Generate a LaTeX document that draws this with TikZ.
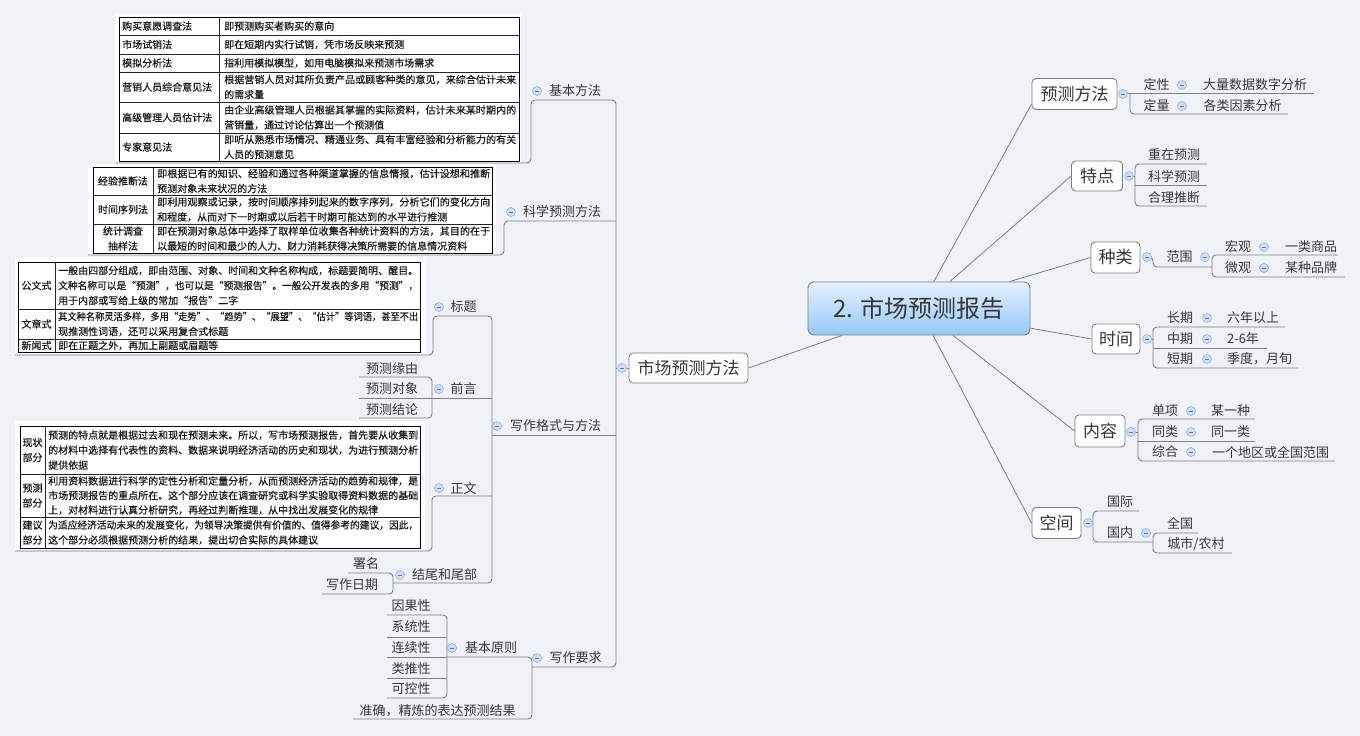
\documentclass[tikz,border=0pt]{standalone}
\usepackage{fontspec}
\setmainfont{Noto Sans CJK SC}
\newfontfamily\tabfont{Noto Sans CJK SC}[FakeBold=0.35]
\usepackage{graphicx}
\usetikzlibrary{calc}
\definecolor{bgc}{RGB}{241,242,248}
\definecolor{lnc}{RGB}{128,128,128}
\definecolor{txc}{RGB}{55,55,55}
\definecolor{tgf}{RGB}{206,222,248}
\definecolor{tgd}{RGB}{150,178,230}
\definecolor{cbt}{RGB}{228,241,255}
\definecolor{cbb}{RGB}{150,200,248}
\newcommand\fl[2]{\resizebox{#1}{\height}{#2}}
\tikzset{
  conn/.style={draw=lnc, line width=0.9pt, rounded corners=4pt},
  ray/.style={draw=lnc, line width=0.8pt},
  lvl/.style={draw=lnc, line width=0.9pt, fill=white, rounded corners=4pt, inner sep=0pt, font=\fontsize{17}{17}\selectfont, text=txc},
  tx/.style={inner sep=0pt, font=\fontsize{13}{13}\selectfont, text=txc},
  tog/.style={circle, draw=tgd, fill=tgf, minimum size=9pt, inner sep=0pt, line width=0.6pt,
    path picture={\draw[tgd!70!black, line width=0.8pt] ([xshift=-2.3pt]path picture bounding box.center) -- ([xshift=2.3pt]path picture bounding box.center);}},
  tcell/.style={inner sep=0pt, anchor=west, align=left, font=\tabfont\fontsize{10}{15}\selectfont, text=black!90},
  tlab/.style={inner sep=0pt, align=center, font=\tabfont\fontsize{10}{15}\selectfont, text=black!90},
  grid/.style={draw=black!85, line width=0.7pt},
  gridb/.style={draw=black, line width=1pt},
}
\begin{document}
\begin{tikzpicture}[x=1pt,y=-1pt]
\useasboundingbox (0,0) rectangle (1360,736);
\fill[bgc] (0,0) rectangle (1360,736);

% ---------------- Table 1 (基本方法)
\fill[white] (115,14) rectangle (521,163);
\draw[grid] (219,17) -- (219,161);
\foreach \yy in {35,54,72,102,133} {\draw[grid] (119,\yy) -- (519,\yy);}
\draw[gridb] (119,17) rectangle (519,161);
\node[tcell] (b1a) at (122,26) {购买意愿调查法};
\node[tcell] (b1b) at (224,26) {即预测购买者购买的意向};
\node[tcell] (b2a) at (122,44.5) {市场试销法};
\node[tcell] (b2b) at (224,44.5) {即在短期内实行试销，凭市场反映来预测};
\node[tcell] (b3a) at (122,63) {模拟分析法};
\node[tcell] (b3b) at (224,63) {指利用模拟模型，如用电脑模拟来预测市场需求};
\node[tcell] (b4a) at (122,87) {营销人员综合意见法};
\node[tcell] (b4b) at (224,87) {\fl{292pt}{根据营销人员对其所负责产品或顾客种类的意见，来综合估计未来}\\的需求量};
\node[tcell] (b5a) at (122,117.5) {高级管理人员估计法};
\node[tcell] (b5b) at (224,117.5) {\fl{292pt}{由企业高级管理人员根据其掌握的实际资料，估计未来某时期内的}\\营销量，通过讨论估算出一个预测值};
\node[tcell] (b6a) at (122,147) {专家意见法};
\node[tcell] (b6b) at (224,147) {\fl{292pt}{即听从熟悉市场情况、精通业务、具有丰富经验和分析能力的有关}\\人员的预测意见};

% ---------------- Table 2 (科学预测方法)
\fill[white] (88,164) rectangle (496,255);
\draw[grid] (153,167) -- (153,253);
\foreach \yy in {195,224} {\draw[grid] (93,\yy) -- (492,\yy);}
\draw[gridb] (93,167) rectangle (492,253);
\node[tlab] (s1a) at (123,181) {经验推断法};
\node[tlab] (s2a) at (123,209.5) {时间序列法};
\node[tlab] (s3a) at (123,238.5) {统计调查\\抽样法};
\node[tcell] (s1b) at (157,181) {\fl{333pt}{即根据已有的知识、经验和通过各种渠道掌握的信息情报，估计设想和推断}\\预测对象未来状况的方法};
\node[tcell] (s2b) at (157,209.5) {\fl{333pt}{即利用观察或记录，按时间顺序排列起来的数字序列，分析它们的变化方向}\\和程度，从而对下一时期或以后若干时期可能达到的水平进行推测};
\node[tcell] (s3b) at (157,238.5) {\fl{333pt}{即在预测对象总体中选择了取样单位收集各种统计资料的方法，其目的在于}\\以最短的时间和最少的人力、财力消耗获得决策所需要的信息情况资料};

% ---------------- Table 3 (标题)
\fill[white] (15,258) rectangle (426,354);
\draw[grid] (55,262) -- (55,352);
\foreach \yy in {309,339} {\draw[grid] (18,\yy) -- (420,\yy);}
\draw[gridb] (18,262) rectangle (420,352);
\node[tlab] (h1a) at (36.5,285.5) {公文式};
\node[tlab] (h2a) at (36.5,324) {文章式};
\node[tlab] (h3a) at (36.5,345.5) {新闻式};
\node[tcell] (h1b) at (58,285.5) {\fl{360pt}{一般由四部分组成，即由范围、对象、时间和文种名称构成，标题要简明、醒目。}\\\fl{360pt}{文种名称可以是“预测”，也可以是“预测报告”。一般公开发表的多用“预测”，}\\用于内部或写给上级的常加“报告”二字};
\node[tcell] (h2b) at (58,324) {\fl{360pt}{其文种名称灵活多样，多用“走势”、“趋势”、“展望”、“估计”等词语，甚至不出}\\现推测性词语，还可以采用复合式标题};
\node[tcell] (h3b) at (58,345.5) {即在正题之外，再加上副题或眉题等};

% ---------------- Table 4 (正文)
\fill[white] (15,421) rectangle (425,550);
\draw[grid] (45,426) -- (45,548);
\foreach \yy in {474,517} {\draw[grid] (20,\yy) -- (420,\yy);}
\draw[gridb] (20,426) rectangle (420,548);
\node[tlab] (z1a) at (32.5,450) {现状\\部分};
\node[tlab] (z2a) at (32.5,495.5) {预测\\部分};
\node[tlab] (z3a) at (32.5,532.5) {建议\\部分};
\node[tcell] (z1b) at (48,450) {\fl{370pt}{预测的特点就是根据过去和现在预测未来。所以，写市场预测报告，首先要从收集到}\\\fl{370pt}{的材料中选择有代表性的资料、数据来说明经济活动的历史和现状，为进行预测分析}\\提供依据};
\node[tcell, font=\tabfont\fontsize{10}{14.5}\selectfont] (z2b) at (48,495.5) {\fl{370pt}{利用资料数据进行科学的定性分析和定量分析，从而预测经济活动的趋势和规律，是}\\\fl{370pt}{市场预测报告的重点所在。这个部分应该在调查研究或科学实验取得资料数据的基础}\\上，对材料进行认真分析研究，再经过判断推理，从中找出发展变化的规律};
\node[tcell] (z3b) at (48,532.5) {\fl{370pt}{为适应经济活动未来的发展变化，为领导决策提供有价值的、值得参考的建议，因此，}\\这个部分必须根据预测分析的结果，提出切合实际的具体建议};

% ---------------- left tree connectors
\draw[conn] (115,163) -| (531,100) -| (616,667) -- (532,667);
\draw[conn] (88,255) -| (504,221) -- (616,221);
\draw[conn] (492,435) -- (616,435);
\draw[conn] (15,355) -| (433,316) -| (492,583) -- (393,583);
\draw[conn] (15,551) -| (432,496) -- (492,496);
\draw[conn] (432,398) -- (492,398);
\draw[conn] (359,377) -| (432,418) -- (359,418);
\draw[conn] (359,398) -- (432,398);
\draw[conn] (348,573) -| (393,594) -- (322,594);
\draw[conn] (447,657) -| (532,719) -- (353,719);
\draw[conn] (387,615) -| (447,698) -- (387,698);
\draw[conn] (387,637) -- (447,637);
\draw[conn] (387,657) -- (447,657);
\draw[conn] (387,678) -- (447,678);

% ---------------- right tree connectors
\draw[conn] (1120,93) -- (1314,93);
\draw[conn] (1130,93) |- (1288,114);
\draw[conn] (1207,164) -| (1135,206) -- (1207,206);
\draw[conn] (1128,176) -- (1135,176);
\draw[conn] (1135,185) -- (1207,185);
\draw[conn] (1147,257) -- (1153,257) |- (1212,267);
\draw[conn] (1338,255) -| (1212,277) -- (1345,277);
\draw[conn] (1147,339) -- (1153,339);
\draw[conn] (1285,327) -| (1153,368) -- (1298,368);
\draw[conn] (1153,348) -- (1267,348);
\draw[conn] (1131,432) -- (1138,432);
\draw[conn] (1255,419) -| (1138,461) -- (1335,461);
\draw[conn] (1138,441) -- (1255,441);
\draw[conn] (1088,523) -- (1093,523);
\draw[conn] (1139,511) -| (1093,542) -- (1153,542);
\draw[conn] (1198,533) -| (1153,553) -- (1232,553);

% ---------------- central and level-1 nodes
\node[draw=lnc, line width=0.9pt, rounded corners=6pt, top color=cbt, bottom color=cbb, minimum width=222pt, minimum height=53pt, inner sep=0pt, font=\fontsize{24}{24}\selectfont, text=txc] (c) at (919,308.5) {2. 市场预测报告};
\node[lvl, minimum width=85pt, minimum height=31pt] (yc) at (1074.5,94) {预测方法};
\node[lvl, minimum width=51pt, minimum height=30pt] (td) at (1097,176) {特点};
\node[lvl, minimum width=49pt, minimum height=31pt] (zl) at (1115.5,257.5) {种类};
\node[lvl, minimum width=48pt, minimum height=30pt] (sj) at (1116,339) {时间};
\node[lvl, minimum width=50pt, minimum height=32pt] (nr) at (1100,431) {内容};
\node[lvl, minimum width=49pt, minimum height=31pt] (kj) at (1056.5,523) {空间};
\node[lvl, minimum width=119pt, minimum height=30pt] (sf) at (688.5,368) {市场预测方法};

\draw[ray] (c) -- ([yshift=6pt]yc.south west);
\draw[ray] (c) -- (td.west);
\draw[ray] (c) -- (zl.west);
\draw[ray] (c) -- (sj.west);
\draw[ray] (c) -- (nr.west);
\draw[ray] (c) -- (kj.west);
\draw[ray] (c) -- (sf.east);
\draw[conn] (sf.west) -- (616,368);

% ---------------- left text
\node[tx] (n1) at (575,91) {基本方法};
\node[tx] (n2) at (562,212) {科学预测方法};
\node[tx] (n3) at (555.5,426) {写作格式与方法};
\node[tx] (n4) at (575.5,658) {写作要求};
\node[tx] (n31) at (463.5,307) {标题};
\node[tx] (n32) at (463.5,389) {前言};
\node[tx] (n33) at (463.5,488) {正文};
\node[tx] (n34) at (444.5,575) {结尾和尾部};
\node[tx] (n321) at (392,369) {预测缘由};
\node[tx] (n322) at (392,389) {预测对象};
\node[tx] (n323) at (392,410) {预测结论};
\node[tx] (n341) at (366,564) {署名};
\node[tx] (n342) at (352,585) {写作日期};
\node[tx] (n41) at (491,648) {基本原则};
\node[tx] (n42) at (437.5,711) {准确，精炼的表达预测结果};
\node[tx] (n411) at (411,606) {因果性};
\node[tx] (n412) at (411,627) {系统性};
\node[tx] (n413) at (411,648) {连续性};
\node[tx] (n414) at (411,669) {类推性};
\node[tx] (n415) at (411,689) {可控性};

% ---------------- right text
\node[tx] (r11) at (1156.5,85) {定性};
\node[tx] (r111) at (1255,85) {大量数据数字分析};
\node[tx] (r12) at (1156.5,106) {定量};
\node[tx] (r121) at (1242.5,106) {各类因素分析};
\node[tx] (r21) at (1174,155) {重在预测};
\node[tx] (r22) at (1174,176) {科学预测};
\node[tx] (r23) at (1174,198) {合理推断};
\node[tx] (r31) at (1179.5,257) {范围};
\node[tx] (r311) at (1238,247) {宏观};
\node[tx] (r3111) at (1311,247) {一类商品};
\node[tx] (r312) at (1238,268) {微观};
\node[tx] (r3121) at (1311,268) {某种品牌};
\node[tx] (r41) at (1180,318) {长期};
\node[tx] (r411) at (1253,318) {六年以上};
\node[tx] (r42) at (1180,339) {中期};
\node[tx] (r421) at (1243,339) {2-6年};
\node[tx] (r43) at (1180,359) {短期};
\node[tx] (r431) at (1259.5,359) {季度，月旬};
\node[tx] (r51) at (1165,411) {单项};
\node[tx] (r511) at (1230.5,411) {某一种};
\node[tx] (r52) at (1165,432) {同类};
\node[tx] (r521) at (1230.5,432) {同一类};
\node[tx] (r53) at (1165,452) {综合};
\node[tx] (r531) at (1270.5,452) {一个地区或全国范围};
\node[tx] (r61) at (1120,502) {国际};
\node[tx] (r62) at (1120,533) {国内};
\node[tx] (r621) at (1180,523) {全国};
\node[tx] (r622) at (1196,544) {城市/农村};

% ---------------- collapse markers
\foreach \px/\py [count=\i] in {622/368, 537/91, 511/212, 497/426, 439/307, 439/389, 439/488, 400/575, 537/658, 452/648,
  1123/94, 1129/176, 1147/257, 1147/339, 1131/432, 1088/523,
  1182/85, 1182/106, 1205/257, 1264/247, 1264/268, 1207/318, 1207/339, 1207/359, 1191/411, 1191/432, 1191/452, 1146/533}
  {\node[tog] (tg\i) at (\px,\py) {};}
\end{tikzpicture}
\end{document}
